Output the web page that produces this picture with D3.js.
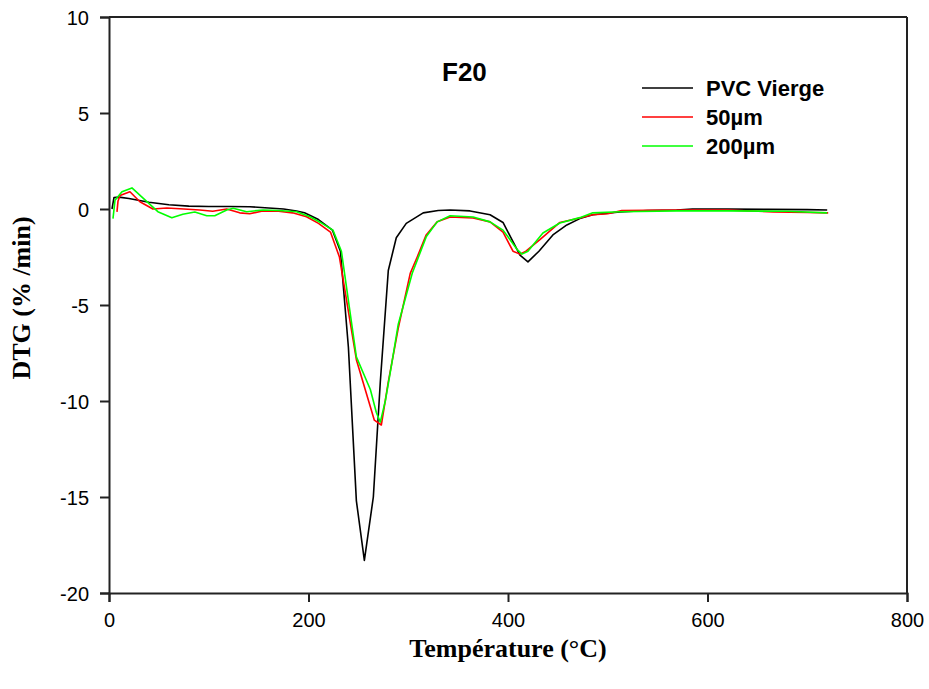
<!DOCTYPE html>
<html>
<head>
<meta charset="utf-8">
<script src="https://cdn.jsdelivr.net/npm/d3@7"></script>
<style>
  html, body { margin: 0; padding: 0; background: #fff; }
  svg { display: block; }
</style>
</head>
<body>
<svg id="chart" width="929" height="689"></svg>
<script>
// DTG curves, sample F20
const tempVierge = [3, 5, 10, 20, 40, 60, 80, 100, 120, 141, 160, 175, 188, 196, 210, 224, 232, 240, 248, 256, 265, 272, 280, 288, 298, 315, 330, 342, 362, 382, 395, 405, 412, 420, 431, 445, 459, 472, 485, 512, 540, 569, 585, 620, 660, 700, 720];
const dtgVierge  = [0.0, 0.6, 0.62, 0.55, 0.35, 0.22, 0.15, 0.13, 0.13, 0.12, 0.05, 0.0, -0.1, -0.2, -0.55, -1.1, -2.2, -7.2, -15.2, -18.3, -15.0, -9.0, -3.2, -1.5, -0.75, -0.2, -0.08, -0.05, -0.1, -0.3, -0.7, -1.7, -2.4, -2.75, -2.2, -1.35, -0.83, -0.5, -0.3, -0.16, -0.08, -0.05, 0.0, 0.0, -0.02, -0.03, -0.05];

const temp50 = [8, 9, 11, 21, 31, 44, 58, 75, 91, 104, 118, 131, 141, 154, 170, 184, 198, 210, 222, 231, 248, 262, 266, 273, 280, 290, 302, 309, 318, 329, 342, 365, 382, 395, 405, 412, 418, 432, 452, 472, 485, 500, 514, 540, 580, 620, 666, 700, 721];
const dtg50  = [-0.15, 0.4, 0.7, 0.9, 0.38, 0.0, 0.05, 0.0, -0.05, -0.12, 0.0, -0.2, -0.25, -0.1, -0.12, -0.2, -0.4, -0.75, -1.2, -2.5, -7.85, -10.3, -11.0, -11.25, -9.0, -6.2, -3.35, -2.5, -1.35, -0.67, -0.42, -0.47, -0.67, -1.2, -2.2, -2.35, -2.2, -1.6, -0.7, -0.47, -0.3, -0.25, -0.08, -0.07, -0.05, -0.05, -0.15, -0.18, -0.2];

const temp200 = [4, 6, 13, 23, 38, 49, 63, 74, 86, 98, 106, 118, 124.5, 138, 154.5, 170, 188, 201.5, 212, 224.5, 233, 248, 262, 268, 272, 277, 283, 290, 304, 318, 329, 342, 365, 382, 395, 409, 414, 420, 435, 452, 472, 485, 512, 569, 620, 680, 720];
const dtg200  = [-0.5, 0.45, 0.9, 1.1, 0.38, -0.14, -0.45, -0.27, -0.16, -0.35, -0.35, -0.05, 0.04, -0.14, -0.05, -0.08, -0.14, -0.4, -0.7, -1.1, -2.2, -7.7, -9.4, -10.6, -11.1, -10.0, -8.2, -6.0, -3.35, -1.45, -0.67, -0.35, -0.42, -0.67, -1.1, -2.1, -2.35, -2.2, -1.25, -0.73, -0.45, -0.2, -0.14, -0.1, -0.1, -0.12, -0.2];

const seriesNames  = ["PVC Vierge", "50µm", "200µm"];
const seriesColors = ["#000000", "#ff0000", "#00ff00"];
const xTicks = [0, 200, 400, 600, 800];
const yTicks = [10, 5, 0, -5, -10, -15, -20];
const chartTitle = "F20";
const xLabel = "Température (°C)";
const yLabel = "DTG (% /min)";

const series = [
  { name: seriesNames[0], color: seriesColors[0], pts: tempVierge.map((t, i) => [t, dtgVierge[i]]) },
  { name: seriesNames[1], color: seriesColors[1], pts: temp50.map((t, i) => [t, dtg50[i]]) },
  { name: seriesNames[2], color: seriesColors[2], pts: temp200.map((t, i) => [t, dtg200[i]]) }
];

const svg = d3.select("#chart");
const W = 929, H = 689;
const m = { left: 109, right: 22, top: 17, bottom: 96 };
const iw = W - m.left - m.right, ih = H - m.top - m.bottom;

const x = d3.scaleLinear().domain([0, 800]).range([0, iw]);
const y = d3.scaleLinear().domain([-20, 10]).range([ih, 0]);

const g = svg.append("g").attr("transform", `translate(${m.left},${m.top})`);

// frame: top and right edges
g.append("line").attr("x1", 0).attr("x2", iw).attr("y1", 0).attr("y2", 0)
  .attr("stroke", "#222").attr("stroke-width", 2);
g.append("line").attr("x1", iw).attr("x2", iw).attr("y1", 0).attr("y2", ih)
  .attr("stroke", "#222").attr("stroke-width", 2);

// plain hyphen-minus labels
const plain = d => String(d);
const xAxis = g.append("g").attr("transform", `translate(0,${ih})`)
  .call(d3.axisBottom(x).tickValues(xTicks).tickSize(9).tickPadding(11).tickFormat(plain));
const yAxis = g.append("g")
  .call(d3.axisLeft(y).tickValues(yTicks).tickSize(9).tickPadding(11).tickFormat(plain));

[xAxis, yAxis].forEach(a => {
  a.select(".domain").attr("stroke", "#222").attr("stroke-width", 2);
  a.selectAll(".tick line").attr("stroke", "#222").attr("stroke-width", 2);
  a.selectAll(".tick text")
    .attr("fill", "#000")
    .style("font-family", "'Liberation Sans', Arial, sans-serif")
    .style("font-size", "20px");
});
yAxis.selectAll(".tick text").attr("dy", "0.36em");

// curves
const line = d3.line().x(d => x(d[0])).y(d => y(d[1]));
g.selectAll("path.curve").data(series).enter().append("path")
  .attr("class", "curve")
  .attr("d", d => line(d.pts))
  .attr("fill", "none")
  .attr("stroke", d => d.color)
  .attr("stroke-width", 1.6)
  .attr("stroke-linejoin", "round");

// title
svg.append("text")
  .attr("x", 442).attr("y", 81)
  .style("font-family", "'Liberation Sans', Arial, sans-serif")
  .style("font-weight", "bold").style("font-size", "26px")
  .text(chartTitle);

// legend
const leg = svg.append("g");
series.forEach((s, i) => {
  const ly = 88 + i * 29;
  leg.append("line").attr("x1", 642).attr("x2", 693).attr("y1", ly).attr("y2", ly)
    .attr("stroke", s.color).attr("stroke-width", 1.6);
  leg.append("text").attr("x", 706).attr("y", ly + 8)
    .style("font-family", "'Liberation Sans', Arial, sans-serif")
    .style("font-weight", "bold").style("font-size", "22px")
    .text(s.name);
});

// axis titles
svg.append("text")
  .attr("x", 508).attr("y", 657)
  .attr("text-anchor", "middle")
  .style("font-family", "'Liberation Serif', 'Times New Roman', serif")
  .style("font-weight", "bold").style("font-size", "26px")
  .text(xLabel);

svg.append("text")
  .attr("transform", "translate(30,298) rotate(-90)")
  .attr("text-anchor", "middle")
  .style("font-family", "'Liberation Serif', 'Times New Roman', serif")
  .style("font-weight", "bold").style("font-size", "26px")
  .text(yLabel);
</script>
</body>
</html>
